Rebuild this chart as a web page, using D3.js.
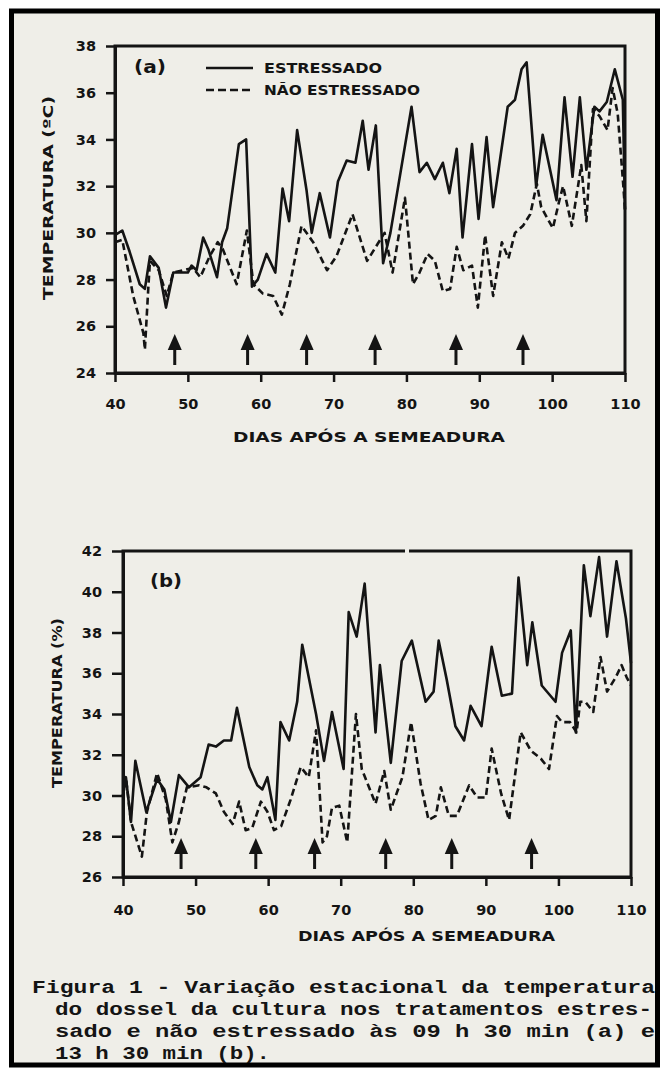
<!DOCTYPE html>
<html>
<head>
<meta charset="utf-8">
<script src="https://cdn.jsdelivr.net/npm/d3@7"></script>
<style>
  html, body { margin: 0; padding: 0; background: #fff; }
  svg { display: block; }
</style>
</head>
<body>
<svg id="chart" width="662" height="1070"></svg>
<script>
// ticks and labels
const dayTicks = [40, 50, 60, 70, 80, 90, 100, 110]
const tempTicksA = [24, 26, 28, 30, 32, 34, 36, 38]
const tempTicksB = [26, 28, 30, 32, 34, 36, 38, 40, 42]
const seriesNames = ['ESTRESSADO', 'NÃO ESTRESSADO']
const xTitle = 'DIAS  APÓS  A  SEMEADURA'
const captionLines = [
  'Figura 1 - Variação estacional da temperatura',
  'do dossel da cultura nos tratamentos estres-',
  'sado e não estressado às 09 h 30 min (a) e',
  '13 h 30 min (b).'
]

// irrigation arrows (days)
const arrowDaysA = [48.2, 58.2, 66.3, 75.7, 86.8, 96]
const arrowDaysB = [48, 58.3, 66.4, 76.2, 85.3, 96.3]

// (a) 09 h 30 min
const daysAEst = [40, 41, 42, 43.4, 44.1, 44.8, 46, 47, 48, 50, 50.5, 51.2, 52.1, 52.8, 54, 54.7, 55.4, 57, 58, 58.8,
  59.6, 60.8, 62, 63, 63.9, 65, 66.3, 67, 68.1, 69.5, 70.6, 71.8, 73, 74, 74.8, 75.8, 76.8, 77.8, 80.7, 81.8,
  82.8, 83.9, 85, 85.9, 86.9, 87.7, 89, 89.9, 91, 91.9, 93.9, 94.9, 95.8, 96.5, 97.8, 98.7, 100.6, 101.7, 102.8, 103.8,
  104.7, 105.8, 106.5, 107.5, 108.6, 109.7, 110]
const tempAEst = [29.9, 30.1, 29.2, 27.8, 27.6, 29.0, 28.5, 26.8, 28.3, 28.3, 28.6, 28.4, 29.8, 29.3, 28.1, 29.6, 30.2, 33.8, 34.0, 27.7,
  28.0, 29.1, 28.3, 31.9, 30.5, 34.4, 31.8, 30.0, 31.7, 29.8, 32.2, 33.1, 33.0, 34.8, 32.7, 34.6, 28.7, 30.0, 35.4, 32.6,
  33.0, 32.3, 33.0, 31.7, 33.6, 29.8, 33.8, 30.6, 34.1, 31.1, 35.4, 35.7, 37.0, 37.3, 32.0, 34.2, 31.4, 35.8, 32.4, 35.8,
  32.7, 35.4, 35.2, 35.6, 37.0, 35.7, 31.0]
const daysANao = [40, 41, 42.5, 43.9, 44.1, 44.6, 44.8, 46, 47.1, 48, 50.7, 51.7, 53, 54.1, 54.8, 56.7, 58.1, 59, 60.3, 61.7,
  62.9, 64, 65.6, 67.2, 69.1, 70.4, 72.6, 74.6, 76, 77, 78.1, 79.8, 80.9, 81.8, 82.9, 83.9, 85, 86, 86.9, 87.8,
  89, 89.8, 90.8, 91.9, 93.1, 94, 94.9, 96, 97, 97.9, 98.5, 100.1, 101, 101.5, 102.7, 104, 104.7, 105.6, 106.5, 107.6,
  108.3, 109, 109.7, 110]
const tempANao = [29.6, 29.7, 27.3, 25.7, 25.0, 27.8, 28.8, 28.4, 27.3, 28.3, 28.5, 28.1, 29.0, 29.6, 29.3, 27.8, 30.1, 27.8, 27.4, 27.3,
  26.5, 27.8, 30.3, 29.6, 28.4, 29.0, 30.8, 28.8, 29.5, 30.0, 28.3, 31.5, 27.8, 28.3, 29.1, 28.8, 27.5, 27.6, 29.4, 28.4,
  28.6, 26.8, 29.9, 27.3, 29.6, 28.9, 30.0, 30.3, 30.8, 32.1, 31.1, 30.2, 31.4, 32.0, 30.3, 32.9, 30.5, 35.3, 35.0, 34.4,
  36.2, 35.1, 32.3, 31.0]

// (b) 13 h 30 min
const daysBEst = [40, 40.4, 41.1, 41.7, 43.2, 44.7, 45.7, 46.6, 47.7, 49.1, 50.7, 51.8, 52.8, 53.9, 54.9, 55.7, 57.4, 58.5, 59.2, 59.9,
  61, 61.7, 62.9, 64, 64.7, 66.6, 67.7, 68.8, 70.4, 71.1, 72.2, 73.3, 74.8, 75.4, 76.9, 78.4, 79.8, 81.7, 82.8, 83.5,
  84.6, 85.8, 87, 87.9, 89.4, 90.8, 92.2, 93.6, 94.5, 95.7, 96.4, 97.7, 99.6, 100.5, 101.7, 102.4, 103.5, 104.4, 105.6, 106.7,
  108, 109.3, 110]
const tempBEst = [30.0, 30.9, 28.7, 31.7, 29.2, 30.8, 30.3, 28.7, 31.0, 30.4, 30.9, 32.5, 32.4, 32.7, 32.7, 34.3, 31.4, 30.5, 30.3, 30.9,
  28.8, 33.6, 32.7, 34.6, 37.4, 34.0, 31.7, 34.1, 31.3, 39.0, 37.8, 40.4, 33.1, 36.4, 31.6, 36.6, 37.6, 34.6, 35.1, 37.6,
  35.7, 33.4, 32.7, 34.4, 33.4, 37.3, 34.9, 35.0, 40.7, 36.4, 38.5, 35.4, 34.6, 37.0, 38.1, 33.1, 41.3, 38.8, 41.7, 37.8,
  41.5, 38.7, 36.5]
const daysBNao = [40, 40.4, 41.1, 42.6, 43.3, 44.7, 45.9, 46.8, 47.7, 48.8, 50.5, 51.5, 52.8, 53.9, 55.1, 56, 56.9, 57.8, 59, 59.9,
  60.8, 61.8, 63.1, 64.5, 65.6, 66.6, 67.5, 68.1, 68.8, 69.8, 70.9, 72.1, 72.9, 74.8, 76, 76.9, 78.5, 79.7, 81, 82.1,
  83.1, 83.8, 84.9, 86, 87.7, 88.8, 90, 90.8, 92.1, 93.2, 94.8, 96.2, 97.6, 98.7, 99.8, 100.5, 101.6, 102.5, 103, 103.7,
  104.8, 105.8, 106.7, 107.9, 108.7, 109.4, 110]
const tempBNao = [30.0, 30.9, 28.7, 27.0, 29.2, 31.1, 29.8, 27.7, 28.7, 30.4, 30.5, 30.4, 30.1, 29.2, 28.6, 29.7, 28.3, 28.4, 29.7, 29.2,
  28.3, 28.5, 29.8, 31.4, 30.9, 33.2, 27.7, 28.0, 29.4, 29.5, 27.7, 34.0, 31.3, 29.6, 31.2, 29.3, 30.9, 33.6, 30.6, 28.8,
  29.0, 30.4, 29.0, 29.0, 30.5, 29.9, 29.9, 32.3, 30.1, 28.8, 33.1, 32.2, 31.8, 31.3, 33.9, 33.6, 33.6, 33.1, 34.6, 34.6,
  34.1, 36.8, 35.1, 35.8, 36.4, 35.8, 35.4]

const ink = '#141414'
const paper = '#efeee8'
const boldFont = "'DejaVu Sans', sans-serif"

const svg = d3.select('#chart')

// paper + outer black frame
svg.append('rect').attr('x', 0).attr('y', 0).attr('width', 662).attr('height', 1070).attr('fill', '#fff')
svg.append('rect')
  .attr('x', 11.5).attr('y', 11).attr('width', 646).attr('height', 1054)
  .attr('fill', paper).attr('stroke', '#000').attr('stroke-width', 5)

function zip(days, temps) {
  return days.map((d, i) => ({day: d, temp: temps[i]}))
}

function drawPanel(p) {
  const x = d3.scaleLinear().domain([40, 110]).range([p.left, p.right])
  const y = d3.scaleLinear().domain(p.yDomain).range([p.bottom, p.top])
  const g = svg.append('g')

  // box (top + right)
  g.append('rect')
    .attr('x', p.left).attr('y', p.top)
    .attr('width', p.right - p.left).attr('height', p.bottom - p.top)
    .attr('fill', 'none').attr('stroke', ink).attr('stroke-width', 3)

  const yAxis = g.append('g')
    .attr('transform', `translate(${p.left},0)`)
    .call(d3.axisLeft(y).tickValues(p.yTicks).tickSize(p.tickY).tickSizeOuter(0).tickPadding(p.padY))
  const xAxis = g.append('g')
    .attr('transform', `translate(0,${p.bottom})`)
    .call(d3.axisBottom(x).tickValues(dayTicks).tickSize(9).tickSizeOuter(0).tickPadding(p.padX))
  for (const a of [yAxis, xAxis]) {
    a.select('.domain').attr('stroke', ink).attr('stroke-width', 3)
    a.selectAll('.tick line').attr('stroke', ink).attr('stroke-width', 2.5)
    a.selectAll('.tick text')
      .attr('fill', ink)
      .style('font-family', boldFont).style('font-weight', 'bold').style('font-size', '14.5px')
  }

  const line = d3.line().x(d => x(d.day)).y(d => y(d.temp))
  g.append('path').datum(zip(p.daysNao, p.tempNao))
    .attr('d', line).attr('fill', 'none').attr('stroke', ink)
    .attr('stroke-width', 2.6).attr('stroke-dasharray', '7,4').attr('stroke-linejoin', 'round')
  g.append('path').datum(zip(p.daysEst, p.tempEst))
    .attr('d', line).attr('fill', 'none').attr('stroke', ink)
    .attr('stroke-width', 2.6).attr('stroke-linejoin', 'round')

  // arrows
  const arrows = g.selectAll('.arrow').data(p.arrows).enter().append('g')
    .attr('transform', d => `translate(${x(d)},${p.arrowTop})`)
  arrows.append('path').attr('d', 'M0,0 L7,16 L-7,16 Z').attr('fill', ink)
  arrows.append('rect').attr('x', -1.5).attr('y', 14).attr('width', 3).attr('height', 17).attr('fill', ink)

  // panel label
  g.append('text').attr('x', p.labelX).attr('y', p.labelY)
    .attr('fill', ink).attr('textLength', 32).attr('lengthAdjust', 'spacingAndGlyphs')
    .style('font-family', boldFont).style('font-weight', 'bold').style('font-size', '17px')
    .text(p.label)

  // axis titles
  g.append('text')
    .attr('transform', `translate(${p.yTitleX},${p.yTitleY}) rotate(-90)`)
    .attr('text-anchor', 'middle').attr('fill', ink)
    .attr('textLength', p.yTitleLen).attr('lengthAdjust', 'spacingAndGlyphs')
    .style('font-family', boldFont).style('font-weight', 'bold').style('font-size', '14px')
    .text(p.yTitle)
  g.append('text')
    .attr('x', p.xTitleX).attr('y', p.xTitleY)
    .attr('fill', ink)
    .attr('textLength', p.xTitleLen).attr('lengthAdjust', 'spacingAndGlyphs')
    .style('font-family', boldFont).style('font-weight', 'bold').style('font-size', '14.5px')
    .text(xTitle)
  return {x, y, g}
}

const panelA = drawPanel({
  left: 115, right: 625, top: 46, bottom: 373, yDomain: [24, 38], yTicks: tempTicksA,
  tickY: 9, padY: 10, padX: 17,
  daysEst: daysAEst, tempEst: tempAEst, daysNao: daysANao, tempNao: tempANao,
  arrows: arrowDaysA, arrowTop: 334,
  label: '(a)', labelX: 134, labelY: 73,
  yTitle: 'TEMPERATURA (ºC)', yTitleX: 53, yTitleY: 198, yTitleLen: 204,
  xTitleX: 233, xTitleY: 442, xTitleLen: 272
})

const panelB = drawPanel({
  left: 123, right: 631, top: 551, bottom: 877, yDomain: [26, 42], yTicks: tempTicksB,
  tickY: 11, padY: 10, padX: 19,
  daysEst: daysBEst, tempEst: tempBEst, daysNao: daysBNao, tempNao: tempBNao,
  arrows: arrowDaysB, arrowTop: 838,
  label: '(b)', labelX: 150, labelY: 587,
  yTitle: 'TEMPERATURA (%)', yTitleX: 62, yTitleY: 703, yTitleLen: 170,
  xTitleX: 298, xTitleY: 941, xTitleLen: 257
})

// scan notch in the top border of (b)
svg.append('rect').attr('x', 405).attr('y', 547).attr('width', 4).attr('height', 7).attr('fill', paper)

// legend in (a)
const legend = panelA.g.append('g')
const legendRows = [
  {name: seriesNames[0], dash: null, y: 68, len: 118},
  {name: seriesNames[1], dash: '8,4', y: 90, len: 156}
]
legendRows.forEach(r => {
  legend.append('line').attr('x1', 206).attr('x2', 253).attr('y1', r.y).attr('y2', r.y)
    .attr('stroke', ink).attr('stroke-width', 2.6).attr('stroke-dasharray', r.dash)
  legend.append('text').attr('x', 264).attr('y', r.y + 5)
    .attr('fill', ink).attr('textLength', r.len).attr('lengthAdjust', 'spacingAndGlyphs')
    .style('font-family', boldFont).style('font-weight', 'bold').style('font-size', '14px')
    .text(r.name)
})

// caption
const capX = [32, 55, 55, 55]
const capLen = [623, 597, 600, 215]
svg.append('g').selectAll('text').data(captionLines).enter().append('text')
  .attr('x', (d, i) => capX[i])
  .attr('y', (d, i) => 993 + i * 22)
  .attr('textLength', (d, i) => capLen[i]).attr('lengthAdjust', 'spacingAndGlyphs')
  .attr('fill', ink)
  .style('font-family', "'Liberation Mono', monospace").style('font-weight', 'bold').style('font-size', '18px')
  .text(d => d)
</script>
</body>
</html>
